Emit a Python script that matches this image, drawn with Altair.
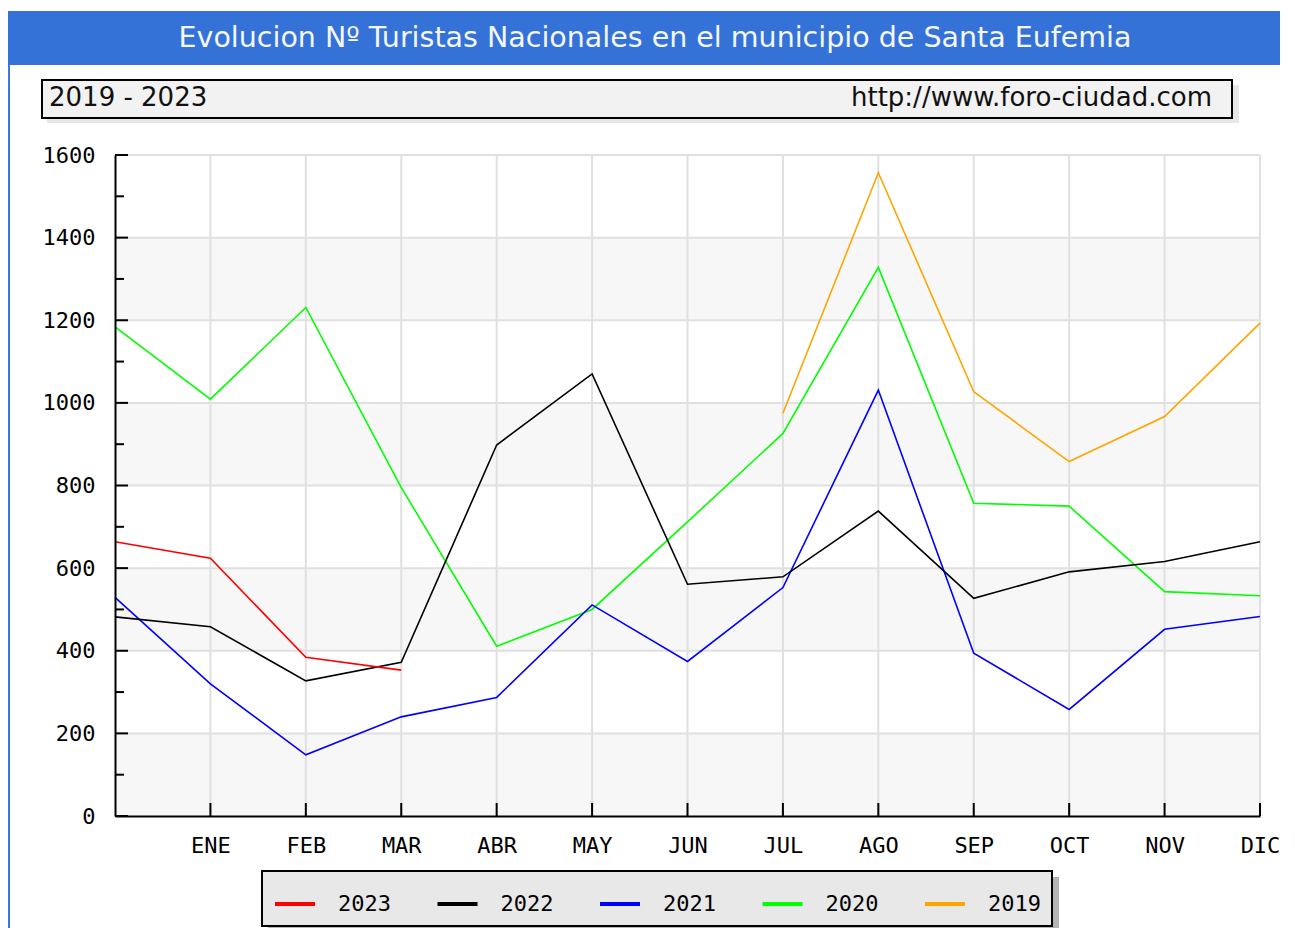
import altair as alt
import pandas as pd

# ---------------- data ----------------
months = ["ENE", "FEB", "MAR", "ABR", "MAY", "JUN", "JUL", "AGO", "SEP", "OCT", "NOV", "DIC"]
positions = [0, 1, 2, 3, 4, 5, 6, 7, 8, 9, 10, 11, 12]
years = ["2023", "2022", "2021", "2020", "2019"]
colors = ["#ff0000", "#000000", "#0000ff", "#00ff00", "#ffa500"]

v2023 = [664, 624, 384, 353, None, None, None, None, None, None, None, None, None]
v2022 = [482, 458, 327, 372, 898, 1070, 561, 579, 738, 527, 591, 616, 664]
v2021 = [529, 320, 148, 240, 287, 511, 374, 553, 1031, 394, 258, 452, 483]
v2020 = [1184, 1009, 1231, 795, 411, 500, 712, 926, 1328, 757, 750, 543, 533]
v2019 = [None, None, None, None, None, None, None, 975, 1557, 1027, 858, 967, 1193]

y_labels = [0, 200, 400, 600, 800, 1000, 1200, 1400, 1600]
y_grid = [200, 400, 600, 800, 1000, 1200, 1400, 1600]
y_minor = [100, 300, 500, 700, 900, 1100, 1300, 1500]
band_lo = [0, 400, 800, 1200]
band_hi = [200, 600, 1000, 1400]
month_ticks = [1, 2, 3, 4, 5, 6, 7, 8, 9, 10, 11, 12]

title_text = "Evolucion Nº Turistas Nacionales en el municipio de Santa Eufemia"
left_sub = "2019 - 2023"
right_sub = "http://www.foro-ciudad.com"

# ---------------- build table ----------------
rows = []
series = {"2019": v2019, "2020": v2020, "2021": v2021, "2022": v2022, "2023": v2023}
for yr in ["2019", "2020", "2021", "2022", "2023"]:
    for p, v in zip(positions, series[yr]):
        if v is not None:
            rows.append({"pos": p, "value": v, "year": yr})
df = pd.DataFrame(rows)

W, H = 1145, 661
MONO = "DejaVu Sans Mono"
SANS = "DejaVu Sans"

xs = alt.Scale(domain=[0, 12], nice=False, zero=False)
ys = alt.Scale(domain=[0, 1600], nice=False, zero=True)

one = pd.DataFrame({"k": [0]})

label_expr = "[" + ",".join("'" + m + "'" for m in months) + "][datum.value - 1]"

x_axis = alt.Axis(
    values=month_ticks, labelExpr=label_expr, title=None, grid=False, ticks=False, tickSize=0,
    labelFont=MONO, labelFontSize=22, labelColor="#000000", labelPadding=19,
    domainColor="#000000", domainWidth=2, zindex=1, labelFlush=False, labelOverlap=False,
)
y_axis = alt.Axis(
    values=y_labels, format="d", title=None, grid=False, ticks=False, tickSize=0,
    labelFont=MONO, labelFontSize=22, labelColor="#000000", labelPadding=20,
    domainColor="#000000", domainWidth=2, zindex=1, labelFlush=False, labelOverlap=False,
)

# ---------------- decorations (header) ----------------
frame_line = alt.Chart(one).mark_rule(stroke="#3a78dc", strokeWidth=2).encode(
    x=alt.value(-106), y=alt.value(-143), y2=alt.value(H + 130)
)
header = alt.Chart(one).mark_rect(fill="#3472d8").encode(
    x=alt.value(-107), x2=alt.value(W + 40), y=alt.value(-144), y2=alt.value(-90)
)
header_text = alt.Chart(one).mark_text(
    text=title_text, font=SANS, fontSize=28.5, color="#f4f7fc", align="center", baseline="middle"
).encode(x=alt.value(540), y=alt.value(-117))

sub_shadow = alt.Chart(one).mark_rect(fill="#e6e6e6").encode(
    x=alt.value(-68), x2=alt.value(1124), y=alt.value(-70), y2=alt.value(-32)
)
sub_box = alt.Chart(one).mark_rect(fill="#f2f2f2", stroke="#000000", strokeWidth=2).encode(
    x=alt.value(-73), x2=alt.value(1117), y=alt.value(-75), y2=alt.value(-37)
)
sub_left = alt.Chart(one).mark_text(
    text=left_sub, font=SANS, fontSize=26, color="#111111", align="left", baseline="middle"
).encode(x=alt.value(-66), y=alt.value(-57))
sub_right = alt.Chart(one).mark_text(
    text=right_sub, font=SANS, fontSize=26, color="#111111", align="right", baseline="middle"
).encode(x=alt.value(1097), y=alt.value(-57))

legend_shadow = alt.Chart(one).mark_rect(fill="#b4b4b4").encode(
    x=alt.value(153), x2=alt.value(944), y=alt.value(722), y2=alt.value(777)
)

# ---------------- plot background ----------------
bands = alt.Chart(pd.DataFrame({"lo": band_lo, "hi": band_hi})).mark_rect(fill="#f7f7f7").encode(
    y=alt.Y("lo:Q", scale=ys, axis=y_axis), y2="hi:Q", x=alt.value(0), x2=alt.value(W)
)
hgrid = alt.Chart(pd.DataFrame({"lo": y_grid})).mark_rule(stroke="#e0e0e0", strokeWidth=2).encode(
    y=alt.Y("lo:Q", scale=ys, axis=y_axis), x=alt.value(0), x2=alt.value(W)
)
vgrid = alt.Chart(pd.DataFrame({"pos": month_ticks})).mark_rule(stroke="#e0e0e0", strokeWidth=2).encode(
    x=alt.X("pos:Q", scale=xs, axis=x_axis), y=alt.value(0), y2=alt.value(H)
)

# ---------------- data lines ----------------
lines = alt.Chart(df).mark_line(strokeWidth=1.6).encode(
    x=alt.X("pos:Q", scale=xs, axis=x_axis),
    y=alt.Y("value:Q", scale=ys, axis=y_axis),
    color=alt.Color(
        "year:N",
        scale=alt.Scale(domain=years, range=colors),
        legend=alt.Legend(
            title=None, orient="none", legendX=147, legendY=716, direction="horizontal", columns=5,
            fillColor="#e8e8e8", strokeColor="#000000", padding=11,
            symbolType="stroke", symbolSize=1600, symbolStrokeWidth=4,
            labelFont=MONO, labelFontSize=22, labelColor="#000000", labelOffset=21,
            columnPadding=38.5,
        ),
    ),
)

# ---------------- inward ticks ----------------
ytick_major = alt.Chart(pd.DataFrame({"value": y_labels})).mark_rule(stroke="#000000", strokeWidth=2).encode(
    y=alt.Y("value:Q", scale=ys, axis=y_axis), x=alt.value(0), x2=alt.value(13)
)
ytick_minor = alt.Chart(pd.DataFrame({"value": y_minor})).mark_rule(stroke="#000000", strokeWidth=2).encode(
    y=alt.Y("value:Q", scale=ys, axis=y_axis), x=alt.value(0), x2=alt.value(9)
)
xticks = alt.Chart(pd.DataFrame({"pos": month_ticks})).mark_rule(stroke="#000000", strokeWidth=2).encode(
    x=alt.X("pos:Q", scale=xs, axis=x_axis), y=alt.value(H - 13), y2=alt.value(H)
)

chart = alt.layer(
    frame_line, header, header_text, sub_shadow, sub_box, sub_left, sub_right, legend_shadow,
    bands, hgrid, vgrid, lines, ytick_major, ytick_minor, xticks,
).properties(
    width=W, height=H,
    padding={"left": 107, "top": 147, "right": 20, "bottom": 112},
    autosize=alt.AutoSizeParams(type="none"),
    background="#ffffff",
).configure_view(stroke=None).configure_legend(strokeWidth=2)

chart.save("out.html", embed_options={"renderer": "svg", "actions": False})
